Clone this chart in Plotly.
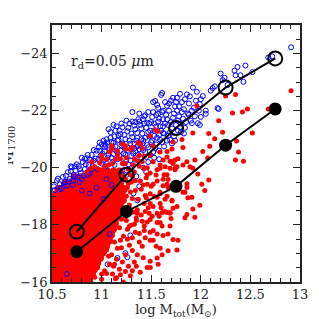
import plotly.graph_objects as go

# ---------------- data ----------------
bin_x = [10.75, 11.25, 11.75, 12.25, 12.75]
median_open_y = [-17.76, -19.76, -21.39, -22.81, -23.83]
median_filled_y = [-17.06, -18.47, -19.35, -20.79, -22.06]

# dense red core (rows: magnitude, list of log-mass values)
red_core_rows = [
    (-16.05, [10.51, 10.57, 10.63, 10.69, 10.75, 10.81, 10.87]),
    (-16.25, [10.54, 10.60, 10.66, 10.72, 10.78, 10.84, 10.90]),
    (-16.45, [10.51, 10.57, 10.63, 10.69, 10.75, 10.81, 10.87, 10.92]),
    (-16.65, [10.54, 10.60, 10.66, 10.72, 10.78, 10.84, 10.90, 10.95]),
    (-16.85, [10.51, 10.57, 10.63, 10.69, 10.75, 10.81, 10.87, 10.93, 10.98]),
    (-17.05, [10.54, 10.60, 10.66, 10.72, 10.78, 10.84, 10.90, 10.96, 11.01]),
    (-17.25, [10.51, 10.57, 10.63, 10.69, 10.75, 10.81, 10.87, 10.93, 10.99, 11.04]),
    (-17.45, [10.54, 10.60, 10.66, 10.72, 10.78, 10.84, 10.90, 10.96, 11.02, 11.07]),
    (-17.65, [10.51, 10.57, 10.63, 10.69, 10.75, 10.81, 10.87, 10.93, 10.99, 11.05, 11.09]),
    (-17.85, [10.54, 10.60, 10.66, 10.72, 10.78, 10.84, 10.90, 10.96, 11.02, 11.08, 11.11]),
    (-18.05, [10.51, 10.57, 10.63, 10.69, 10.75, 10.81, 10.87, 10.93, 10.99, 11.05, 11.11, 11.13]),
    (-18.25, [10.54, 10.60, 10.66, 10.72, 10.78, 10.84, 10.90, 10.96, 11.02, 11.08, 11.14]),
    (-18.45, [10.51, 10.57, 10.63, 10.69, 10.75, 10.81, 10.87, 10.93, 10.99, 11.05, 11.11, 11.16]),
    (-18.65, [10.54, 10.60, 10.66, 10.72, 10.78, 10.84, 10.90, 10.96, 11.02, 11.08, 11.14, 11.18]),
    (-18.85, [10.51, 10.57, 10.63, 10.69, 10.75, 10.81, 10.87, 10.93, 10.99, 11.05, 11.11, 11.17, 11.20]),
    (-19.05, [10.54, 10.60, 10.66, 10.72, 10.78, 10.84, 10.90, 10.96, 11.02, 11.08, 11.14, 11.20]),
    (-19.25, [10.57, 10.63, 10.69, 10.75, 10.81, 10.87, 10.93, 10.99, 11.05, 11.11, 11.17, 11.22]),
    (-19.45, [10.64, 10.70, 10.76, 10.82, 10.88, 10.94, 11.00, 11.06, 11.12, 11.18]),
    (-19.65, [10.73, 10.79, 10.85, 10.91, 10.97, 11.03, 11.09, 11.15, 11.20]),
    (-19.85, [10.88, 10.94, 11.00, 11.06, 11.12, 11.18]),
]

# scattered red galaxies (log M, M1700)
red_pts = [
    (11.08, -20.55), (11.16, -20.46), (11.19, -20.32), (11.29, -20.64), (11.37, -20.88),
    (11.41, -20.68), (11.49, -21.11), (11.54, -21.33), (11.24, -20.15), (11.11, -20.15),
    (10.93, -20.04), (11.33, -20.32), (11.41, -20.21), (11.49, -20.43), (11.52, -20.77),
    (11.59, -20.55), (11.66, -20.38), (11.71, -20.21), (11.77, -20.32), (11.64, -20.04),
    (11.74, -19.98), (11.16, -20.60), (11.24, -20.66), (11.31, -20.71), (11.39, -20.83),
    (11.38, -20.43), (11.52, -20.21), (11.43, -19.98), (11.49, -19.82), (11.56, -19.93),
    (11.39, -19.54), (11.46, -19.42), (11.56, -19.54), (11.34, -19.20), (11.49, -19.09),
    (11.56, -18.97), (11.43, -18.75), (11.52, -18.64), (11.31, -18.92), (11.36, -18.53),
    (11.48, -18.41), (11.26, -19.31), (11.29, -19.76), (11.00, -20.43), (10.90, -20.21),
    (11.10, -20.77), (11.21, -20.83), (11.24, -20.77), (11.10, -20.66), (11.00, -20.32),
    (11.57, -21.28), (11.25, -19.00), (11.28, -18.70), (11.30, -19.50), (11.33, -19.85),
    (11.27, -19.95), (11.24, -19.60), (11.35, -18.25), (11.30, -18.00), (11.27, -18.40),
    (11.22, -17.60), (11.25, -18.15), (11.20, -17.20), (11.15, -16.80), (11.12, -16.55),
    (11.05, -16.30), (11.00, -16.10), (10.96, -16.50), (11.07, -16.90), (11.18, -17.90),
    (11.40, -19.25), (11.45, -19.65), (11.38, -20.05), (11.32, -20.10), (11.25, -20.35),
    (11.05, -20.30), (10.98, -20.18),
    (11.36, -18.41), (11.44, -18.47), (11.51, -18.30), (11.56, -18.08), (11.41, -18.13),
    (11.33, -18.02), (11.26, -17.85), (11.34, -17.74), (11.43, -17.80), (11.49, -17.74),
    (11.56, -17.68), (11.52, -17.46), (11.38, -17.40), (11.28, -17.29), (11.19, -17.46),
    (11.16, -17.18), (11.24, -16.95), (11.36, -16.95), (11.49, -16.73), (11.49, -16.51),
    (11.39, -16.34), (11.31, -16.39), (11.24, -16.37), (11.18, -16.45), (11.11, -16.28),
    (11.14, -16.11), (11.08, -16.62), (11.03, -16.39), (11.10, -16.95), (11.13, -17.40),
    (11.05, -17.12), (10.96, -16.73), (11.00, -16.28), (10.93, -16.17), (10.90, -16.34),
    (11.22, -16.00), (11.15, -16.15),
    (11.77, -17.46), (11.76, -17.12), (11.59, -17.18), (11.62, -17.63), (11.64, -18.47),
    (11.69, -18.41), (11.56, -16.84), (11.57, -16.62), (11.46, -16.51), (11.29, -16.22),
    (11.13, -16.62),
    (11.46, -19.76), (11.59, -19.98), (11.66, -19.76), (11.52, -19.42), (11.67, -19.31),
    (11.59, -19.09), (11.44, -19.03), (11.49, -18.75), (11.59, -18.75), (11.71, -18.86),
    (11.76, -18.64), (11.56, -18.41), (11.49, -18.19), (11.59, -18.08), (11.69, -17.96),
    (11.43, -17.96), (11.52, -17.80), (11.67, -17.68), (11.49, -17.46),
    (11.97, -19.78), (12.08, -19.57), (12.01, -19.42), (12.04, -19.20), (11.99, -18.69),
    (11.92, -18.56), (11.86, -18.36), (11.84, -18.25), (11.94, -18.27), (11.72, -17.49),
    (11.67, -17.09), (11.61, -17.96), (11.86, -19.44), (11.86, -19.31), (11.91, -18.97),
    (11.87, -18.95), (11.84, -19.14), (11.82, -19.14), (11.71, -18.84), (11.72, -18.58),
    (11.69, -18.43), (11.70, -18.22), (11.66, -18.43), (11.61, -18.43), (11.60, -18.60),
    (11.66, -19.00), (11.66, -19.42),
    (11.72, -20.15), (11.82, -20.10), (11.89, -20.04), (11.69, -19.98), (11.74, -19.93),
    (11.63, -19.76), (11.67, -19.59), (11.62, -19.37), (11.59, -19.14),
    (11.92, -21.22), (11.81, -20.99), (11.72, -20.90), (11.66, -20.57), (11.82, -20.71),
    (12.02, -20.57), (12.07, -20.34), (11.94, -20.27), (11.86, -20.21), (11.74, -20.27),
    (11.76, -20.04), (11.69, -20.23), (11.62, -20.27), (11.59, -20.10), (11.92, -19.98),
    (11.96, -22.17), (12.18, -21.65), (12.08, -21.20), (12.14, -21.02), (12.09, -20.75),
    (12.22, -21.24), (12.36, -20.94), (12.38, -20.55), (12.35, -20.27), (12.43, -20.23),
    (12.52, -21.22), (12.25, -22.51), (12.35, -22.57), (12.32, -21.92), (12.42, -21.95),
    (12.47, -22.06), (12.68, -22.06), (12.91, -22.70), (11.71, -20.66),
    (11.23, -18.85), (11.26, -18.60), (11.29, -19.15), (11.32, -18.45), (11.34, -19.55),
    (11.37, -18.90), (11.40, -18.35), (11.42, -19.40), (11.45, -18.95), (11.47, -18.60),
    (11.50, -19.35), (11.53, -19.00), (11.55, -19.75), (11.58, -18.30), (11.24, -18.30),
    (11.28, -17.95), (11.31, -17.55), (11.35, -18.15), (11.38, -17.70), (11.41, -17.25),
    (11.44, -17.55), (11.46, -18.10), (11.31, -17.10), (11.33, -16.70), (11.27, -16.55),
    (11.21, -16.70), (11.19, -16.25), (11.26, -17.50), (11.20, -18.20), (11.23, -19.25),
    (11.27, -19.45), (11.31, -19.70), (11.36, -20.25), (11.43, -20.40), (11.46, -20.00),
    (11.21, -20.15), (11.14, -20.30), (11.07, -20.10), (11.03, -20.05), (10.97, -19.95),
    (10.90, -19.98), (10.85, -19.85), (11.62, -19.60), (11.64, -18.90), (11.55, -17.25),
    (11.61, -16.95), (11.42, -16.85), (11.35, -16.55),
]

# blue galaxies (log M, M1700)
blue_pts = [
    (10.52, -19.35), (10.55, -19.55), (10.58, -19.42), (10.61, -19.68), (10.63, -19.50),
    (10.66, -19.85), (10.68, -19.62), (10.70, -20.02), (10.72, -19.75), (10.74, -19.90),
    (10.77, -20.05), (10.79, -19.82), (10.81, -20.20), (10.83, -19.95), (10.85, -20.33),
    (10.87, -20.10), (10.89, -19.90), (10.90, -20.45), (10.92, -20.25), (10.53, -19.22),
    (10.60, -19.30), (10.65, -19.38), (10.71, -19.55), (10.76, -19.66), (10.80, -19.60),
    (10.86, -19.75), (10.69, -20.05), (10.73, -20.05), (10.83, -20.31), (11.03, -20.83),
    (10.98, -20.88),
    (10.93, -20.00), (10.95, -20.60), (10.97, -20.30), (11.00, -20.15), (11.01, -20.50),
    (11.03, -20.72), (11.04, -20.05), (11.05, -21.00), (11.06, -20.35), (11.08, -20.62),
    (11.09, -21.25), (11.10, -20.90), (11.11, -20.20), (11.12, -20.48), (11.13, -21.10),
    (11.14, -20.75), (11.15, -21.45), (11.16, -20.30), (11.17, -20.98), (11.18, -21.30),
    (11.19, -20.60), (11.20, -21.55), (11.21, -20.85), (11.22, -20.15), (11.23, -21.15),
    (11.24, -20.45), (11.25, -21.65), (11.26, -20.70), (11.27, -21.40), (11.28, -20.95),
    (11.29, -20.25), (11.30, -21.20), (11.31, -21.62), (11.07, -21.35), (11.02, -20.95),
    (11.12, -21.50),
    (11.32, -20.50), (11.33, -20.85), (11.34, -21.35), (11.35, -20.20), (11.36, -21.05),
    (11.37, -21.70), (11.38, -20.65), (11.39, -21.50), (11.40, -20.35), (11.41, -21.20),
    (11.42, -20.95), (11.43, -21.80), (11.44, -20.55), (11.45, -21.40), (11.46, -20.80),
    (11.47, -21.95), (11.48, -21.10), (11.49, -20.45), (11.50, -21.60), (11.51, -20.95),
    (11.52, -22.30), (11.53, -21.30), (11.54, -20.70), (11.55, -21.85), (11.56, -21.05),
    (11.57, -22.10), (11.58, -20.60), (11.59, -21.45), (11.60, -22.55), (11.61, -20.90),
    (11.62, -21.70), (11.63, -21.20), (11.64, -22.30), (11.34, -21.60), (11.38, -21.90),
    (11.31, -21.95), (11.54, -22.34), (11.61, -22.62), (11.44, -21.84), (11.52, -21.95),
    (11.57, -21.89), (11.62, -22.00), (11.66, -22.17), (11.36, -20.75), (11.40, -21.00),
    (11.47, -21.25), (11.53, -21.55), (11.58, -21.15), (11.43, -21.55),
    (11.66, -20.95), (11.67, -21.50), (11.68, -22.00), (11.69, -21.25), (11.70, -22.35),
    (11.71, -20.85), (11.72, -21.75), (11.72, -22.45), (11.73, -21.10), (11.74, -22.15),
    (11.75, -21.50), (11.76, -22.00), (11.76, -22.45), (11.77, -21.30), (11.78, -21.80),
    (11.79, -22.59), (11.80, -21.55), (11.81, -22.30), (11.82, -21.72), (11.83, -22.05),
    (11.84, -21.40), (11.86, -22.57), (11.87, -21.90), (11.88, -22.25), (11.90, -21.65),
    (11.91, -21.56), (11.92, -22.81), (11.93, -22.10), (11.96, -22.66), (11.97, -21.56),
    (11.99, -21.50), (11.99, -22.23), (12.00, -21.78), (11.62, -21.22),
    (12.02, -22.51), (12.05, -22.00), (12.05, -21.89), (12.12, -22.79), (12.14, -22.85),
    (12.17, -22.09), (12.18, -22.06), (12.20, -23.30), (12.22, -23.07), (12.24, -23.15),
    (12.27, -22.90), (12.34, -23.40), (12.35, -23.24), (12.37, -23.53), (12.40, -23.24),
    (12.43, -23.01), (12.45, -23.58), (12.52, -23.35), (12.68, -23.86), (12.72, -23.90),
    (12.91, -24.22), (12.10, -22.70), (12.00, -22.40),
    (11.16, -16.84), (11.06, -16.62), (11.24, -17.01), (10.65, -16.28), (11.29, -17.63),
    (11.08, -17.68), (11.26, -16.87), (11.36, -18.86), (10.88, -19.10), (10.95, -19.30),
    (11.02, -18.90), (11.10, -19.40), (10.80, -19.20), (11.05, -19.60),
    (10.56, -19.62), (10.59, -19.25), (10.62, -19.45), (10.64, -19.72), (10.67, -19.52),
    (10.69, -19.88), (10.71, -19.40), (10.73, -19.68), (10.75, -20.12), (10.78, -19.50),
    (10.78, -19.95), (10.80, -20.35), (10.82, -19.72), (10.84, -20.12), (10.86, -20.45),
    (10.88, -19.80), (10.88, -20.28), (10.91, -20.05), (10.92, -20.62), (10.94, -20.32),
    (10.96, -19.95), (10.97, -20.72), (10.99, -20.42), (11.00, -20.82), (11.02, -20.25),
    (11.03, -20.58), (11.05, -20.15), (11.06, -20.88), (11.07, -20.45), (11.09, -21.05),
    (11.10, -20.35), (11.11, -20.72), (11.13, -20.10), (11.14, -21.30), (11.15, -20.58),
    (11.16, -20.95), (11.18, -20.42), (11.19, -21.18), (11.20, -20.78), (11.21, -21.42),
    (11.22, -20.50), (11.24, -21.00), (11.25, -20.28), (11.26, -21.28), (11.27, -20.60),
    (11.28, -21.55), (11.29, -20.85), (11.30, -20.42), (11.31, -21.08), (11.33, -20.68),
    (11.33, -21.48), (11.35, -20.95), (11.36, -21.22), (11.37, -20.45), (11.38, -21.62),
    (11.39, -20.78), (11.40, -21.38), (11.42, -20.62), (11.42, -21.70), (11.44, -21.05),
    (11.45, -20.38), (11.46, -21.58), (11.47, -20.72), (11.49, -21.30), (11.50, -20.90),
    (11.51, -21.78), (11.52, -20.55), (11.53, -21.12), (11.55, -21.45), (11.55, -20.82),
    (11.56, -22.20), (11.58, -21.72), (11.59, -20.98), (11.60, -21.30), (11.61, -21.95),
    (11.63, -20.75), (11.64, -21.55), (11.65, -21.85), (11.67, -21.12), (11.68, -22.25),
    (11.70, -21.60), (11.71, -21.38), (11.73, -21.90), (11.74, -20.95), (11.75, -22.30),
    (11.77, -21.65), (11.78, -22.15), (11.80, -21.25), (11.81, -21.95), (11.84, -22.40),
    (11.85, -21.60), (11.88, -21.85), (11.89, -22.50), (11.94, -21.80), (11.95, -22.35),
    (11.30, -19.95), (11.35, -19.70), (11.42, -20.00), (11.45, -19.85), (11.38, -19.35),
    (11.32, -19.10), (11.27, -20.12), (11.47, -20.20), (11.53, -20.35), (11.58, -20.30),
    (11.25, -19.75), (11.21, -19.90), (10.98, -20.60), (11.04, -20.78), (11.12, -20.88),
    (11.17, -21.12), (11.23, -20.72), (11.34, -20.58), (11.41, -20.85), (11.48, -21.55),
    (11.57, -21.62), (11.62, -21.45), (11.66, -21.70), (11.69, -20.98), (11.79, -21.42),
    (11.83, -21.20), (11.91, -22.00), (11.98, -22.00),
]

x_tick_vals = [10.5, 11, 11.5, 12, 12.5, 13]
y_tick_vals = [-16, -18, -20, -22, -24]

# ---------------- figure ----------------
FONT = "DejaVu Serif"
core_x = [x for y, xs in red_core_rows for x in xs]
core_y = [y for y, xs in red_core_rows for x in xs]
rx, ry = zip(*red_pts)
bx, by = zip(*blue_pts)

fig = go.Figure()
fig.add_trace(go.Scatter(x=core_x, y=core_y, mode="markers",
                         marker=dict(symbol="circle", size=9, color="#ff0000", line=dict(width=0)),
                         hoverinfo="skip"))
fig.add_trace(go.Scatter(x=bx, y=by, mode="markers",
                         marker=dict(symbol="circle-open", size=5, color="#0000ff", line=dict(width=1))))
fig.add_trace(go.Scatter(x=rx, y=ry, mode="markers",
                         marker=dict(symbol="circle", size=5, color="#ff0000", line=dict(width=0))))
fig.add_trace(go.Scatter(x=bin_x, y=median_open_y, mode="lines+markers",
                         line=dict(color="black", width=2),
                         marker=dict(symbol="circle-open", size=14, color="black", line=dict(width=2))))
fig.add_trace(go.Scatter(x=bin_x, y=median_filled_y, mode="lines+markers",
                         line=dict(color="black", width=2),
                         marker=dict(symbol="circle", size=13, color="black")))

axis_common = dict(showline=True, linecolor="#222", linewidth=1.5, mirror="allticks",
                   ticks="inside", ticklen=7, tickwidth=1, tickcolor="#222",
                   showgrid=False, zeroline=False,
                   tickfont=dict(family=FONT, size=13, color="#222"))

fig.update_xaxes(range=[10.5, 13], tickvals=x_tick_vals,
                 minor=dict(dtick=0.1, tick0=10.5, ticks="inside", ticklen=4, tickcolor="#222", showgrid=False),
                 title=dict(text="log M<sub>tot</sub>(M<sub>⊙</sub>)", font=dict(family=FONT, size=13, color="#222"), standoff=4),
                 **axis_common)
fig.update_yaxes(range=[-16, -25], tickvals=y_tick_vals,
                 minor=dict(dtick=0.5, tick0=-16, ticks="inside", ticklen=4, tickcolor="#222", showgrid=False),
                 **axis_common)

fig.add_annotation(x=10.67, y=-23.7, xref="x", yref="y", xanchor="left", yanchor="middle",
                   text="r<sub>d</sub>=0.05 <i>μ</i>m", showarrow=False,
                   font=dict(family=FONT, size=14, color="#222"))
fig.add_annotation(x=-0.176, y=0.53, xref="paper", yref="paper", textangle=-90,
                   xanchor="center", yanchor="middle",
                   text="M<sub>1700</sub>", showarrow=False,
                   font=dict(family=FONT, size=14, color="#222"))

fig.update_layout(width=319, height=319, showlegend=False,
                  margin=dict(l=40, r=27, t=17, b=34),
                  plot_bgcolor="white", paper_bgcolor="white")

fig.write_html("out.html")
